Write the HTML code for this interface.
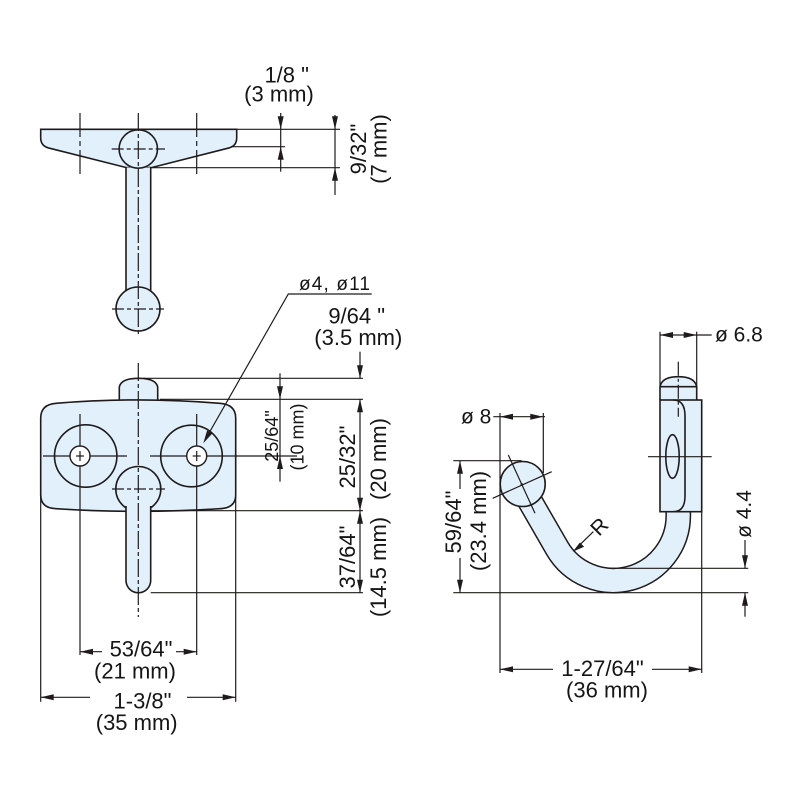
<!DOCTYPE html>
<html>
<head>
<meta charset="utf-8">
<style>
  html, body { margin: 0; padding: 0; background: #ffffff; }
  svg { display: block; }
  text { font-family: "Liberation Sans", Arial, sans-serif; fill: #151515; }
</style>
</head>
<body>
<svg width="800" height="800" viewBox="0 0 800 800" xmlns="http://www.w3.org/2000/svg">
  <rect x="0" y="0" width="800" height="800" fill="#ffffff"/>

  <!-- ================= TOP VIEW ================= -->
  <g stroke="#1f1b1c" stroke-width="1.6" fill="#e1f0fb">
    <path d="M40.7,129.3 L236.7,129.3 L236.7,138 Q236.7,145.5 229.5,147.8 L152,167.5 L126,167.5 L48,147.8 Q40.7,145.5 40.7,138 Z"/>
    <rect x="126" y="167.5" width="24.7" height="125" stroke="none"/>
    <line x1="126" y1="167.5" x2="126" y2="292"/>
    <line x1="150.7" y1="167.5" x2="150.7" y2="292"/>
    <circle cx="138.3" cy="149" r="19.2"/>
    <circle cx="138" cy="309" r="22"/>
  </g>
  <g stroke="#1f1b1c" stroke-width="1.2" fill="none">
    <line x1="138.3" y1="113" x2="138.3" y2="337" stroke-dasharray="18 3 4 3"/>
    <line x1="111.7" y1="149" x2="165" y2="149" stroke-dasharray="12 3 4 3"/>
    <line x1="112" y1="309" x2="164" y2="309" stroke-dasharray="12 3 4 3"/>
    <line x1="80" y1="113" x2="80" y2="176" stroke-dasharray="24 4 5 4"/>
    <line x1="196.7" y1="113" x2="196.7" y2="176" stroke-dasharray="24 4 5 4"/>
    <line x1="236.7" y1="129.3" x2="340" y2="129.3"/>
    <line x1="232" y1="146.7" x2="285" y2="146.7"/>
    <line x1="152" y1="167.7" x2="340" y2="167.7"/>
    <line x1="280.7" y1="113" x2="280.7" y2="171.7"/>
    <line x1="335" y1="115" x2="335" y2="195"/>
  </g>
  <g fill="#1f1b1c">
    <polygon points="280.7,129.3 277.7,116.3 283.7,116.3"/>
    <polygon points="280.7,146.7 277.7,159.7 283.7,159.7"/>
    <polygon points="335,129.3 332,116.3 338,116.3"/>
    <polygon points="335,167.7 332,180.7 338,180.7"/>
  </g>
  <text x="286.7" y="82.7" font-size="22" text-anchor="middle">1/8 "</text>
  <text x="279" y="101.7" font-size="22" text-anchor="middle">(3 mm)</text>
  <text transform="translate(366,149) rotate(-90)" font-size="22" text-anchor="middle">9/32"</text>
  <text transform="translate(386.5,149) rotate(-90)" font-size="22" text-anchor="middle">(7 mm)</text>

  <!-- ================= FRONT VIEW ================= -->
  <g stroke="#1f1b1c" stroke-width="1.6" fill="#e1f0fb">
    <path d="M119.3,400 L119.3,387 Q121,378.3 138.5,378.3 Q156,378.3 157.7,387 L157.7,400"/>
    <path d="M40.7,418 Q40.7,404.5 56,403.3 Q138,396.5 220,403.3 Q235.7,404.5 235.7,418 L235.7,495 Q235.7,508 220,508.7 Q138,514 56,508.7 Q40.7,508 40.7,495 Z"/>
    <circle cx="85.7" cy="456" r="31.2" fill="none"/>
    <circle cx="191.5" cy="456" r="30.8" fill="none"/>
    <circle cx="138.3" cy="489" r="22.5"/>
    <path d="M126,506 L126,580.4 A12.35,12.35 0 0 0 150.7,580.4 L150.7,506 Z" stroke="none"/>
    <path d="M126,506 L126,580.4 A12.35,12.35 0 0 0 150.7,580.4 L150.7,506"/>
  </g>
  <g stroke="#1f1b1c" stroke-width="1.2" fill="none">
    <line x1="138.3" y1="363" x2="138.3" y2="617" stroke-dasharray="18 3 4 3"/>
    <line x1="112" y1="489" x2="165" y2="489" stroke-dasharray="12 3 4 3"/>
    <line x1="43" y1="456" x2="127" y2="456"/>
    <line x1="150" y1="456" x2="297" y2="456"/>
    <line x1="80" y1="414" x2="80" y2="655"/>
    <line x1="196.7" y1="414" x2="196.7" y2="655"/>
    <line x1="40.7" y1="497" x2="40.7" y2="701.7"/>
    <line x1="235.7" y1="497" x2="235.7" y2="701.7"/>
  </g>
  <g stroke="#1f1b1c" stroke-width="1.4" fill="#ffffff">
    <circle cx="80" cy="456" r="10"/>
    <circle cx="196.7" cy="456" r="10"/>
  </g>
  <g stroke="#1f1b1c" stroke-width="1.2">
    <line x1="80" y1="451" x2="80" y2="461"/>
    <line x1="76" y1="456" x2="84" y2="456"/>
    <line x1="196.7" y1="451" x2="196.7" y2="461"/>
    <line x1="192.7" y1="456" x2="200.7" y2="456"/>
  </g>
  <g stroke="#1f1b1c" stroke-width="1.2" fill="none">
    <polyline points="371.7,294 288.3,294 208.5,434"/>
    <line x1="143" y1="378.3" x2="363" y2="378.3"/>
    <line x1="160" y1="399.3" x2="363" y2="399.3"/>
    <line x1="150.7" y1="510.7" x2="363" y2="510.7"/>
    <line x1="150.7" y1="592.7" x2="363" y2="592.7"/>
    <line x1="360" y1="351.7" x2="360" y2="378.3"/>
    <line x1="360" y1="399.3" x2="360" y2="592.7"/>
    <line x1="280" y1="373.3" x2="280" y2="481.7"/>
    <line x1="80" y1="651.7" x2="102" y2="651.7"/>
    <line x1="176" y1="651.7" x2="196.7" y2="651.7"/>
    <line x1="40.7" y1="697.3" x2="90" y2="697.3"/>
    <line x1="187" y1="697.3" x2="235.7" y2="697.3"/>
  </g>
  <g fill="#1f1b1c">
    <polygon points="203.3,443.3 212.3,433.5 207.1,430.5"/>
    <polygon points="360,378.3 357,365.3 363,365.3"/>
    <polygon points="360,399.3 357,412.3 363,412.3"/>
    <polygon points="360,510.7 357,497.7 363,497.7"/>
    <polygon points="360,510.7 357,523.7 363,523.7"/>
    <polygon points="360,592.7 357,579.7 363,579.7"/>
    <polygon points="280,399.3 277,386.3 283,386.3"/>
    <polygon points="280,456 277,469 283,469"/>
    <polygon points="80,651.7 93,648.7 93,654.7"/>
    <polygon points="196.7,651.7 183.7,648.7 183.7,654.7"/>
    <polygon points="40.7,697.3 53.7,694.3 53.7,700.3"/>
    <polygon points="235.7,697.3 222.7,694.3 222.7,700.3"/>
  </g>
  <text x="334.5" y="290" font-size="19" text-anchor="middle" textLength="71" lengthAdjust="spacing">ø4, ø11</text>
  <text x="356.7" y="323.3" font-size="22" text-anchor="middle">9/64 "</text>
  <text x="358.3" y="345" font-size="22" text-anchor="middle">(3.5 mm)</text>
  <text transform="translate(278,436) rotate(-90)" font-size="18" text-anchor="middle">25/64"</text>
  <text transform="translate(303.5,437) rotate(-90)" font-size="18" text-anchor="middle">(10 mm)</text>
  <text transform="translate(355,457) rotate(-90)" font-size="22" text-anchor="middle">25/32"</text>
  <text transform="translate(386,459) rotate(-90)" font-size="22" text-anchor="middle">(20 mm)</text>
  <text transform="translate(355,557) rotate(-90)" font-size="22" text-anchor="middle">37/64"</text>
  <text transform="translate(386,567) rotate(-90)" font-size="22" text-anchor="middle">(14.5 mm)</text>
  <text x="141" y="656.7" font-size="22" text-anchor="middle">53/64"</text>
  <text x="135" y="678.3" font-size="22" text-anchor="middle">(21 mm)</text>
  <text x="142.5" y="708.3" font-size="22" text-anchor="middle">1-3/8"</text>
  <text x="136.7" y="730" font-size="22" text-anchor="middle">(35 mm)</text>

  <!-- ================= SIDE VIEW ================= -->
  <path d="M678.3,511 L678.3,515.5 A65,65 0 0 1 557,548 L527,496" fill="none" stroke="#1f1b1c" stroke-width="25.8"/>
  <path d="M678.3,509 L678.3,515.5 A65,65 0 0 1 557,548 L527,496" fill="none" stroke="#e1f0fb" stroke-width="22.8"/>
  <g stroke="#1f1b1c" stroke-width="1.6" fill="#e1f0fb">
    <circle cx="522.7" cy="484" r="22.5"/>
    <path d="M660,400 L660,386.7 Q662,376.7 678.3,376.7 Q694.7,376.7 696.7,386.7 L696.7,400"/>
    <line x1="660" y1="386.7" x2="696.7" y2="386.7"/>
    <rect x="660" y="400" width="41.7" height="111.7"/>
    <path d="M673.3,400 Q685,400 685,416 L685,496 Q685,511.7 673.3,511.7" fill="none"/>
    <ellipse cx="672.5" cy="456.5" rx="6.7" ry="21.8" fill="none"/>
  </g>
  <g stroke="#1f1b1c" stroke-width="1.2" fill="none">
    <line x1="508.3" y1="455" x2="535" y2="513.3"/>
    <line x1="492.7" y1="498.3" x2="551.7" y2="471.7"/>
    <line x1="648" y1="456.7" x2="711.7" y2="456.7"/>
    <line x1="678.3" y1="361.7" x2="678.3" y2="416.7" stroke-dasharray="14 3 3 3"/>
    <line x1="660" y1="331.7" x2="660" y2="386.7"/>
    <line x1="696.7" y1="331.7" x2="696.7" y2="388"/>
    <line x1="500" y1="413" x2="500" y2="673"/>
    <line x1="543.3" y1="413" x2="543.3" y2="473"/>
    <line x1="701.7" y1="400" x2="701.7" y2="673"/>
    <line x1="453.3" y1="460.7" x2="521.7" y2="460.7"/>
    <line x1="453.3" y1="592.7" x2="748.3" y2="592.7"/>
    <line x1="612" y1="568.3" x2="748.3" y2="568.3"/>
    <line x1="660" y1="335" x2="711.7" y2="335"/>
    <line x1="493.3" y1="416.7" x2="545" y2="416.7"/>
    <line x1="460" y1="460.7" x2="460" y2="489"/>
    <line x1="460" y1="558" x2="460" y2="592.7"/>
    <line x1="745" y1="540" x2="745" y2="568.3"/>
    <line x1="745" y1="592.7" x2="745" y2="616.7"/>
    <line x1="500" y1="669.3" x2="553" y2="669.3"/>
    <line x1="652" y1="669.3" x2="701.7" y2="669.3"/>
    <line x1="593.3" y1="531.7" x2="578" y2="546.6"/>
  </g>
  <circle cx="521.7" cy="484.3" r="1.2" fill="#1f1b1c"/>
  <g fill="#1f1b1c">
    <polygon points="660,335 673,332 673,338"/>
    <polygon points="696.7,335 683.7,332 683.7,338"/>
    <polygon points="500,416.7 513,413.7 513,419.7"/>
    <polygon points="543.3,416.7 530.3,413.7 530.3,419.7"/>
    <polygon points="460,460.7 457,473.7 463,473.7"/>
    <polygon points="460,592.7 457,579.7 463,579.7"/>
    <polygon points="745,568.3 742,555.3 748,555.3"/>
    <polygon points="745,592.7 742,605.7 748,605.7"/>
    <polygon points="500,669.3 513,666.3 513,672.3"/>
    <polygon points="701.7,669.3 688.7,666.3 688.7,672.3"/>
    <polygon points="572.7,551.7 579.9,542.5 584.1,546.7"/>
  </g>
  <text x="715" y="341.7" font-size="21">ø 6.8</text>
  <text x="461" y="423.3" font-size="21">ø 8</text>
  <text transform="translate(461,522) rotate(-90)" font-size="22" text-anchor="middle">59/64"</text>
  <text transform="translate(486,521) rotate(-90)" font-size="22" text-anchor="middle">(23.4 mm)</text>
  <text transform="translate(751,514) rotate(-90)" font-size="21" text-anchor="middle">ø 4.4</text>
  <text transform="translate(599,537) rotate(-45)" font-size="21">R</text>
  <text x="602.5" y="676" font-size="22" text-anchor="middle">1-27/64"</text>
  <text x="607" y="697.7" font-size="22" text-anchor="middle">(36 mm)</text>
</svg>
</body>
</html>
